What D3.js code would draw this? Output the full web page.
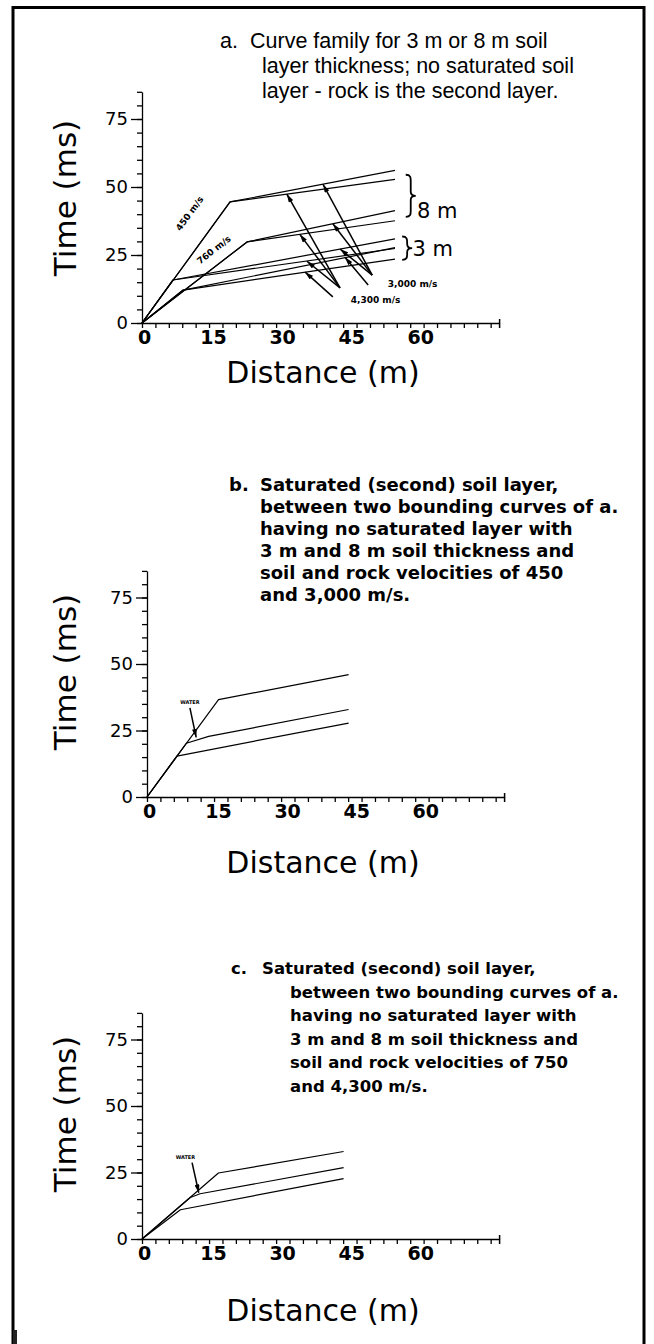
<!DOCTYPE html>
<html>
<head>
<meta charset="utf-8">
<script src="https://cdn.jsdelivr.net/npm/d3@7"></script>
<style>
  body { margin: 0; background: #fff; }
</style>
</head>
<body>
<div id="chart"></div>
<script>
// Tick values shared by the three panels
var distLabels = [0, 15, 30, 45, 60];
var distMinor = d3.range(0, 79, 3);
var timeLabels = [0, 25, 50, 75];
var timeMinor = d3.range(0, 86, 5);

// a. curve family, points are [distance m, time ms]
var a8m450r3000 = [[0, 0], [19.7, 44.5], [56.6, 56.1]];
var a8m450r4300 = [[0, 0], [19.7, 44.5], [56.6, 52.8]];
var a8m750r3000 = [[0, 0], [23.5, 29.8], [56.6, 41.3]];
var a8m750r4300 = [[0, 0], [23.5, 29.8], [56.6, 37.6]];
var a3m450r3000 = [[0, 0], [6.9, 15.8], [56.6, 30.9]];
var a3m450r4300 = [[0, 0], [6.9, 15.8], [56.6, 27.4]];
var a3m750r3000 = [[0, 0], [9.2, 12.1], [56.6, 27.7]];
var a3m750r4300 = [[0, 0], [9.2, 12.1], [56.6, 23.5]];

// arrows of panel a: [tail, head]
var aArrows3000 = [
  [[51.5, 17.6], [40.5, 51.0]],
  [[51.5, 17.6], [42.7, 36.5]],
  [[51.5, 17.6], [44.3, 27.2]],
  [[50.6, 14.0], [45.4, 24.2]]
];
var aArrows4300 = [
  [[44.3, 12.9], [32.4, 47.4]],
  [[44.3, 12.9], [35.3, 32.6]],
  [[44.3, 12.9], [36.9, 22.7]],
  [[42.7, 9.6], [36.5, 18.7]]
];

// b. 450 m/s soil over 3,000 m/s rock
var b8m = [[0, 0], [16.0, 36.6], [45.1, 46.0]];
var bWater = [[0, 0], [8.8, 20.2], [13.8, 22.8], [45.1, 32.9]];
var b3m = [[0, 0], [6.7, 15.4], [45.1, 27.8]];
var bWaterArrow = [[9.6, 33.5], [11.0, 22.4]];

// c. 750 m/s soil over 4,300 m/s rock
var c8m = [[0, 0], [17.1, 24.8], [45.1, 32.9]];
var cWater = [[0, 0], [10.8, 15.6], [13.0, 17.0], [45.1, 26.8]];
var c3m = [[0, 0], [8.6, 11.0], [45.1, 22.7]];
var cWaterArrow = [[11.2, 28.7], [12.7, 17.4]];

var width = 654, height = 1344;
var sans = "'DejaVu Sans', sans-serif";
var plain = "'Liberation Sans', sans-serif";

var svg = d3.select("#chart").append("svg")
  .attr("width", width)
  .attr("height", height)
  .style("display", "block");

svg.append("rect").attr("width", width).attr("height", height).attr("fill", "#fff");

// page frame (open at the bottom)
svg.append("path")
  .attr("d", "M13,1344 V7.5 H644 V1344")
  .attr("fill", "none")
  .attr("stroke", "#000")
  .attr("stroke-width", 3);
svg.append("rect").attr("x", 13).attr("y", 1330).attr("width", 4).attr("height", 14).attr("fill", "#222");

var defs = svg.append("defs");
defs.append("marker")
  .attr("id", "head")
  .attr("viewBox", "0 0 10 6")
  .attr("refX", 10).attr("refY", 3)
  .attr("markerWidth", 10).attr("markerHeight", 5)
  .attr("markerUnits", "userSpaceOnUse")
  .attr("orient", "auto")
  .append("path").attr("d", "M0,0 L10,3 L0,6 Z").attr("fill", "#000");

function makePanel(left, bottom, pxPerM, pxPerMs) {
  var x = d3.scaleLinear().domain([0, 80]).range([left, left + 80 * pxPerM]);
  var y = d3.scaleLinear().domain([0, 85]).range([bottom, bottom - 85 * pxPerMs]);
  var g = svg.append("g");

  // y axis: minor ticks then labelled ticks
  g.append("g")
    .attr("transform", `translate(${x(0)},0)`)
    .call(d3.axisLeft(y).tickValues(timeMinor).tickSize(5).tickFormat("").tickSizeOuter(0));
  var yl = g.append("g")
    .attr("transform", `translate(${x(0)},0)`)
    .call(d3.axisLeft(y).tickValues(timeLabels).tickSize(11).tickPadding(3).tickSizeOuter(0));
  yl.select(".domain").remove();
  yl.selectAll("text").attr("font-family", sans).attr("font-size", 18);

  // x axis
  g.append("g")
    .attr("transform", `translate(0,${y(0)})`)
    .call(d3.axisBottom(x).tickValues(distMinor).tickSize(5).tickFormat("").tickSizeOuter(0));
  var xl = g.append("g")
    .attr("transform", `translate(0,${y(0)})`)
    .call(d3.axisBottom(x).tickValues(distLabels).tickSize(0).tickPadding(8));
  xl.select(".domain").remove();
  xl.selectAll("text")
    .attr("font-family", sans).attr("font-size", 19).attr("font-weight", "bold")
    .attr("dx", function (d) { return d / 15 * 2 + 2; });

  // closing tick at the far end of the distance axis
  g.append("line")
    .attr("x1", x(80)).attr("x2", x(80))
    .attr("y1", y(0) - 4).attr("y2", y(0) + 5)
    .attr("stroke", "#000").attr("stroke-width", 1.5);

  g.selectAll(".domain, .tick line").attr("stroke", "#000").attr("stroke-width", 1.3);

  // axis titles
  g.append("text")
    .attr("transform", `translate(76,${y(0) - 125}) rotate(-90)`)
    .attr("text-anchor", "middle")
    .attr("font-family", sans).attr("font-size", 31)
    .text("Time (ms)");

  return { g: g, x: x, y: y };
}

function drawCurves(p, curves) {
  var line = d3.line().x(function (d) { return p.x(d[0]); }).y(function (d) { return p.y(d[1]); });
  p.g.selectAll(null)
    .data(curves)
    .enter()
    .append("path")
    .attr("d", line)
    .attr("fill", "none")
    .attr("stroke", "#000")
    .attr("stroke-width", 1.2)
    .attr("stroke-linejoin", "round");
}

function drawArrows(p, arrows) {
  p.g.selectAll(null)
    .data(arrows)
    .enter()
    .append("line")
    .attr("x1", function (d) { return p.x(d[0][0]); })
    .attr("y1", function (d) { return p.y(d[0][1]); })
    .attr("x2", function (d) { return p.x(d[1][0]); })
    .attr("y2", function (d) { return p.y(d[1][1]); })
    .attr("stroke", "#000")
    .attr("stroke-width", 1.5)
    .attr("marker-end", "url(#head)");
}

function title(lines, startY, step) {
  lines.forEach(function (l, i) {
    svg.append("text")
      .attr("x", l.x).attr("y", startY + i * step)
      .attr("font-family", l.font).attr("font-size", l.size).attr("font-weight", l.weight)
      .text(l.text);
  });
}

function brace(p, d, t0, t1) {
  var x0 = p.x(d), yTop = p.y(t1), yBot = p.y(t0), ym = (yTop + yBot) / 2, w = 5;
  var path = `M${x0},${yTop} C${x0 + w},${yTop} ${x0 + w},${yTop + 3} ${x0 + w},${yTop + 6} ` +
    `L${x0 + w},${ym - 4} C${x0 + w},${ym - 1} ${x0 + w + 2},${ym} ${x0 + w + 5},${ym} ` +
    `C${x0 + w + 2},${ym} ${x0 + w},${ym + 1} ${x0 + w},${ym + 4} ` +
    `L${x0 + w},${yBot - 6} C${x0 + w},${yBot - 3} ${x0 + w},${yBot} ${x0},${yBot}`;
  p.g.append("path").attr("d", path).attr("fill", "none").attr("stroke", "#000").attr("stroke-width", 1.8);
}

// ---------- panel a ----------
var pa = makePanel(142, 323, 4.47, 2.72);
drawCurves(pa, [a8m450r3000, a8m450r4300, a8m750r3000, a8m750r4300,
                a3m450r3000, a3m450r4300, a3m750r3000, a3m750r4300]);
drawArrows(pa, aArrows3000.concat(aArrows4300));
brace(pa, 59.0, 39.0, 54.5);
brace(pa, 58.2, 23.2, 31.8);

pa.g.append("text").attr("x", pa.x(61.5)).attr("y", pa.y(38.5))
  .attr("font-family", sans).attr("font-size", 21).text("8 m");
pa.g.append("text").attr("x", pa.x(60.5)).attr("y", pa.y(24.5))
  .attr("font-family", sans).attr("font-size", 21).text("3 m");
pa.g.append("text").attr("x", pa.x(55.0)).attr("y", pa.y(13.3))
  .attr("font-family", sans).attr("font-size", 9).attr("font-weight", "bold").text("3,000 m/s");
pa.g.append("text").attr("x", pa.x(46.7)).attr("y", pa.y(7.3))
  .attr("font-family", sans).attr("font-size", 9).attr("font-weight", "bold").text("4,300 m/s");

// velocity labels along the direct-wave lines
[[a8m450r3000, 11.2, 39.6, "450 m/s"], [a8m750r3000, 16.5, 26.0, "760 m/s"]].forEach(function (v) {
  var pts = v[0];
  var ang = Math.atan2(pa.y(pts[1][1]) - pa.y(0), pa.x(pts[1][0]) - pa.x(0)) * 180 / Math.PI;
  pa.g.append("text")
    .attr("transform", `translate(${pa.x(v[1])},${pa.y(v[2])}) rotate(${ang})`)
    .attr("text-anchor", "middle")
    .attr("font-family", sans).attr("font-size", 9).attr("font-weight", "bold")
    .text(v[3]);
});

pa.g.append("text").attr("x", 323).attr("y", 383).attr("text-anchor", "middle")
  .attr("font-family", sans).attr("font-size", 30).text("Distance (m)");

title([{ x: 220, text: "a.", font: plain, size: 21.5, weight: "normal" }], 48, 0);
title([
  { x: 250, text: "Curve family for 3 m or 8 m soil", font: plain, size: 21.5, weight: "normal" },
  { x: 262, text: "layer thickness; no saturated soil", font: plain, size: 21.5, weight: "normal" },
  { x: 262, text: "layer - rock is the second layer.", font: plain, size: 21.5, weight: "normal" }
], 48, 25);

// ---------- panel b ----------
var pb = makePanel(147, 797, 4.47, 2.66);
drawCurves(pb, [b8m, bWater, b3m]);
drawArrows(pb, [bWaterArrow]);
pb.g.append("text").attr("x", pb.x(bWaterArrow[0][0])).attr("y", pb.y(bWaterArrow[0][1] + 1.5))
  .attr("text-anchor", "middle").attr("font-family", sans).attr("font-size", 5).attr("font-weight", "bold").text("WATER");
pb.g.append("text").attr("x", 323).attr("y", 873).attr("text-anchor", "middle")
  .attr("font-family", sans).attr("font-size", 30).text("Distance (m)");

var boldFont = "'DejaVu Sans', sans-serif";
title([{ x: 229, text: "b.", font: boldFont, size: 18, weight: "bold" }], 491, 0);
title([
  { x: 260, text: "Saturated (second) soil layer,", font: boldFont, size: 18, weight: "bold" },
  { x: 260, text: "between two bounding curves of a.", font: boldFont, size: 18, weight: "bold" },
  { x: 260, text: "having no saturated layer with", font: boldFont, size: 18, weight: "bold" },
  { x: 260, text: "3 m and 8 m soil thickness and", font: boldFont, size: 18, weight: "bold" },
  { x: 260, text: "soil and rock velocities of 450", font: boldFont, size: 18, weight: "bold" },
  { x: 260, text: "and 3,000 m/s.", font: boldFont, size: 18, weight: "bold" }
], 491, 22);

// ---------- panel c ----------
var pc = makePanel(142, 1239, 4.47, 2.66);
drawCurves(pc, [c8m, cWater, c3m]);
drawArrows(pc, [cWaterArrow]);
pc.g.append("text").attr("x", pc.x(cWaterArrow[0][0] - 1.5)).attr("y", pc.y(cWaterArrow[0][1] + 1.2))
  .attr("text-anchor", "middle").attr("font-family", sans).attr("font-size", 5).attr("font-weight", "bold").text("WATER");
pc.g.append("text").attr("x", 323).attr("y", 1321).attr("text-anchor", "middle")
  .attr("font-family", sans).attr("font-size", 30).text("Distance (m)");

title([{ x: 231, text: "c.", font: boldFont, size: 16.5, weight: "bold" }], 974, 0);
title([
  { x: 262, text: "Saturated (second) soil layer,", font: boldFont, size: 16.5, weight: "bold" },
  { x: 290, text: "between two bounding curves of a.", font: boldFont, size: 16.5, weight: "bold" },
  { x: 290, text: "having no saturated layer with", font: boldFont, size: 16.5, weight: "bold" },
  { x: 290, text: "3 m and 8 m soil thickness and", font: boldFont, size: 16.5, weight: "bold" },
  { x: 290, text: "soil and rock velocities of 750", font: boldFont, size: 16.5, weight: "bold" },
  { x: 290, text: "and 4,300 m/s.", font: boldFont, size: 16.5, weight: "bold" }
], 974, 23.5);
</script>
</body>
</html>
